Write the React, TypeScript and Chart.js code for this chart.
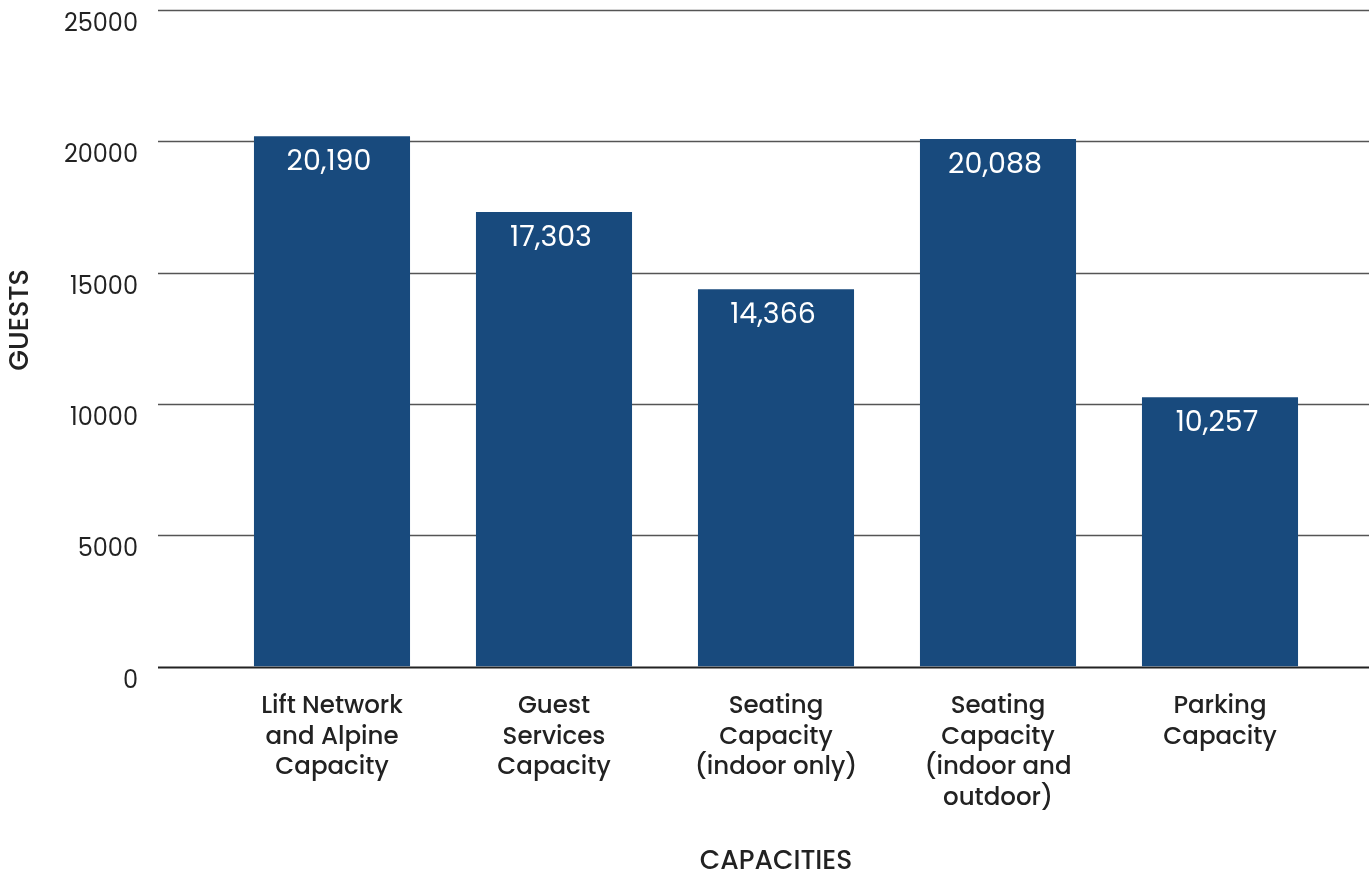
import React, { useEffect, useRef } from "react";
import { Chart, registerables } from "chart.js";

Chart.register(...registerables);

const categories: string[][] = [
  ["Lift Network", "and Alpine", "Capacity"],
  ["Guest", "Services", "Capacity"],
  ["Seating", "Capacity", "(indoor only)"],
  ["Seating", "Capacity", "(indoor and", "outdoor)"],
  ["Parking", "Capacity"],
];
const guests: number[] = [20190, 17303, 14366, 20088, 10257];
const yTicks: number[] = [0, 5000, 10000, 15000, 20000, 25000];

const FONT = "Poppins, 'Open Sans', sans-serif";
const BAR = "#184a7d";

const gridPlugin = {
  id: "fullGrid",
  beforeDatasetsDraw(chart: any) {
    const { ctx } = chart;
    const y = chart.scales.y;
    ctx.save();
    y.ticks.forEach((t: any) => {
      const py = Math.round(y.getPixelForValue(t.value)) + 0.5;
      ctx.beginPath();
      ctx.strokeStyle = t.value === 0 ? "#222222" : "#555555";
      ctx.lineWidth = t.value === 0 ? 2 : 1.3;
      ctx.moveTo(158, py);
      ctx.lineTo(chart.width, py);
      ctx.stroke();
    });
    ctx.restore();
  },
  afterDraw(chart: any) {
    const { ctx } = chart;
    ctx.save();
    ctx.fillStyle = "#222222";
    ctx.font = `500 27px ${FONT}`;
    ctx.textAlign = "center";
    ctx.textBaseline = "middle";
    ctx.translate(21, 320);
    ctx.rotate(-Math.PI / 2);
    ctx.fillText("GUESTS", 0, 0);
    ctx.restore();
  },
};

const valueLabels = {
  id: "valueLabels",
  afterDatasetsDraw(chart: any) {
    const { ctx } = chart;
    const meta = chart.getDatasetMeta(0);
    const data = chart.data.datasets[0].data as number[];
    ctx.save();
    ctx.fillStyle = "#ffffff";
    ctx.font = `400 28.5px ${FONT}`;
    ctx.textAlign = "center";
    ctx.textBaseline = "middle";
    meta.data.forEach((el: any, i: number) => {
      ctx.fillText(data[i].toLocaleString("en-US"), el.x - 3, el.y + 27);
    });
    ctx.restore();
  },
};

export default function App() {
  const ref = useRef<HTMLCanvasElement>(null);
  useEffect(() => {
    if (!ref.current) return;
    const chart = new Chart(ref.current, {
      type: "bar",
      data: {
        labels: categories,
        datasets: [
          {
            data: guests,
            backgroundColor: BAR,
            borderWidth: 0,
            categoryPercentage: 1,
            barPercentage: 0.703,
          },
        ],
      },
      plugins: [gridPlugin, valueLabels],
      options: {
        responsive: false,
        animation: false,
        layout: { padding: { top: 10, right: 38, bottom: 0, left: 0 } },
        plugins: {
          legend: { display: false },
          tooltip: { enabled: false },
        },
        scales: {
          x: {
            grid: { display: false },
            border: { display: false },
            ticks: {
              color: "#222222",
              font: { family: FONT, size: 24.5, weight: "500", lineHeight: 1.25 },
              padding: 17,
              maxRotation: 0,
              autoSkip: false,
            },
            title: {
              display: true,
              text: "CAPACITIES",
              color: "#222222",
              font: { family: FONT, size: 26.5, weight: "500" },
              padding: { top: 0, bottom: 0 },
            },
            afterFit(scale: any) {
              scale.height = 211.5;
              scale.paddingLeft = 0;
              scale.paddingRight = 0;
            },
          },
          y: {
            min: 0,
            max: 25000,
            afterBuildTicks(scale: any) {
              scale.ticks = yTicks.map((v) => ({ value: v }));
            },
            grid: { display: false },
            border: { display: false },
            ticks: {
              color: "#222222",
              font: { family: FONT, size: 24 },
              padding: 75,
              labelOffset: 15,
              callback: (v: any) => String(v),
            },
            afterFit(scale: any) {
              scale.width = 221;
              scale.paddingTop = 0;
              scale.paddingBottom = 0;
            },
          },
        },
      },
    } as any);
    return () => chart.destroy();
  }, []);
  return (
    <div style={{ position: "fixed", left: 0, top: 0, width: 1369, height: 878, background: "#fff" }}>
      <canvas ref={ref} width={1369} height={878} />
    </div>
  );
}
